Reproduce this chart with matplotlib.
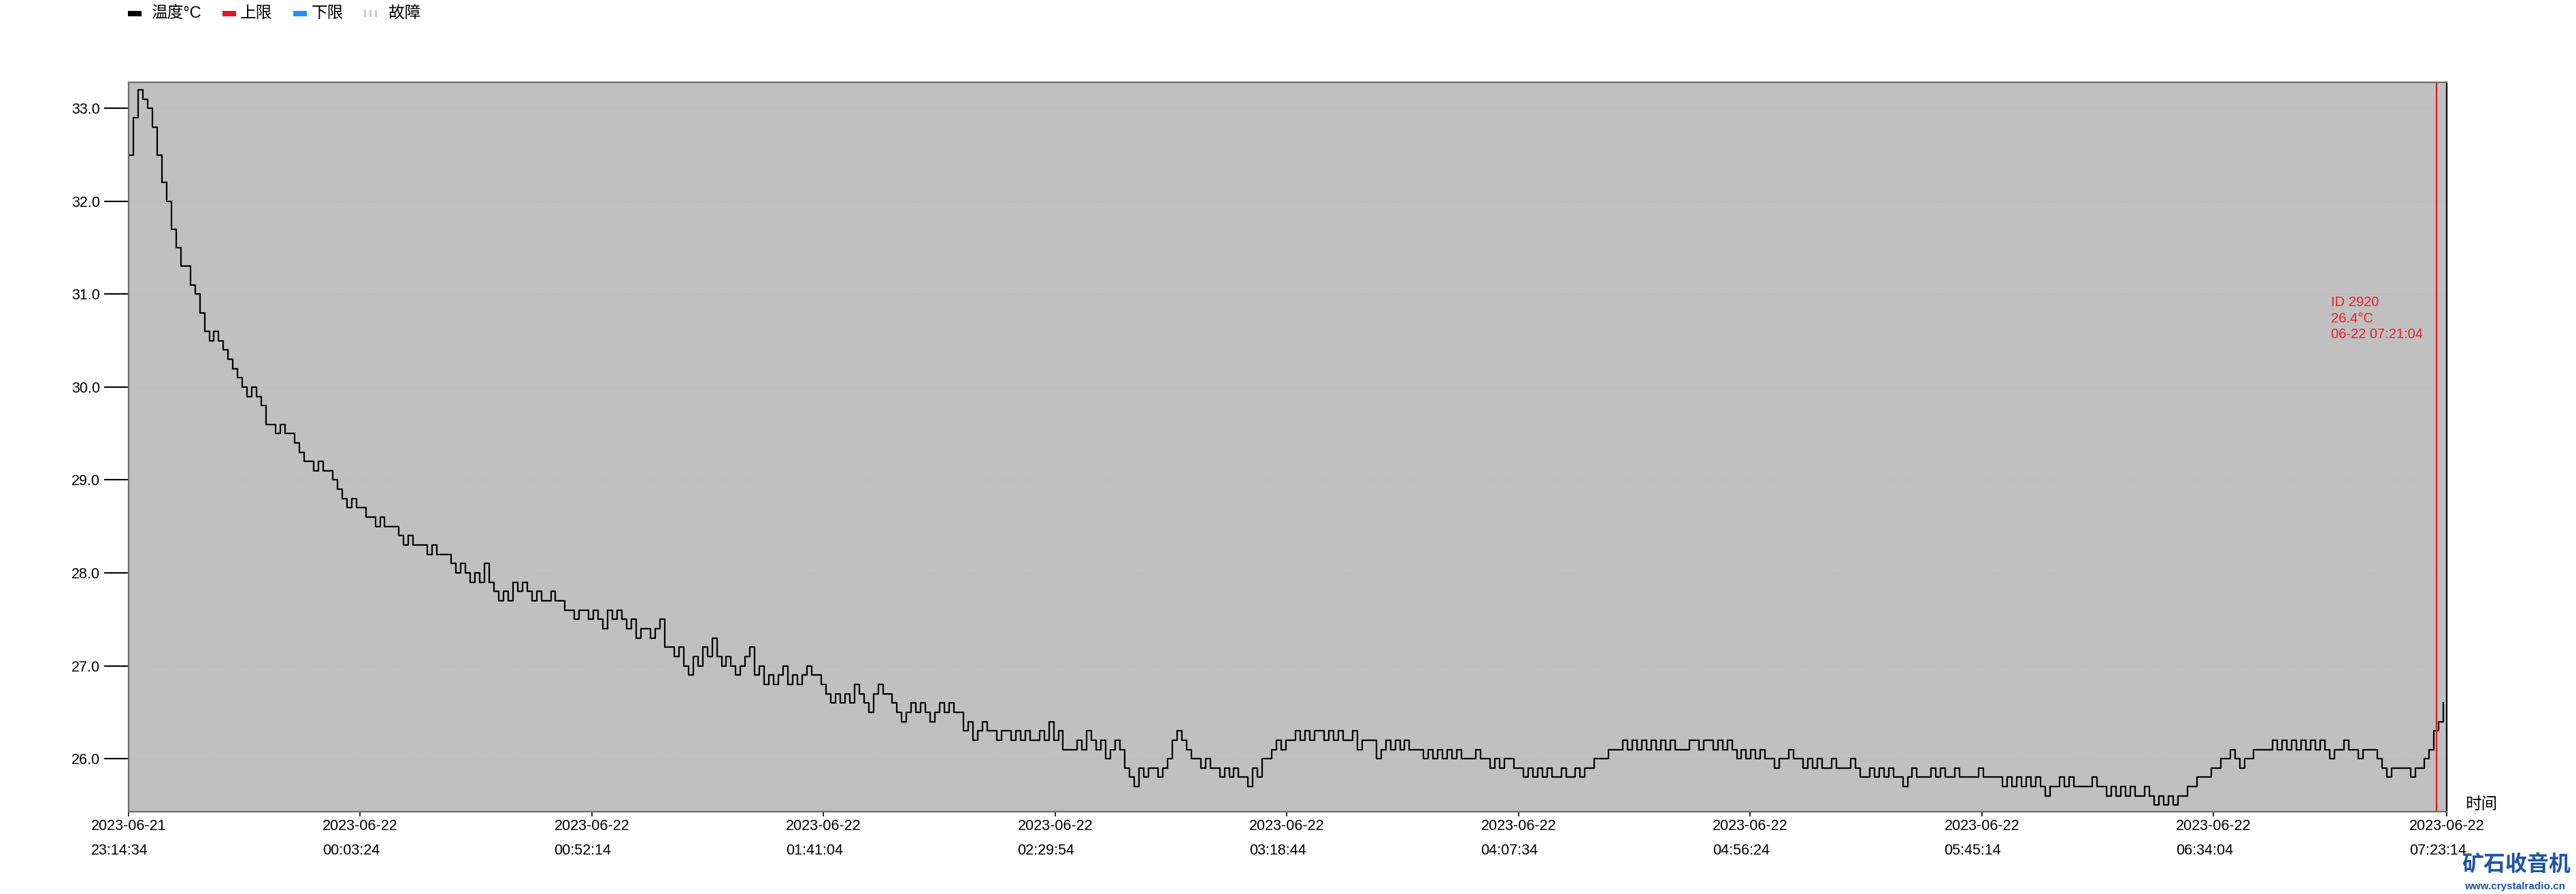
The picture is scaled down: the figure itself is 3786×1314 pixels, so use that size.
import datetime as dt
import numpy as np
import matplotlib
matplotlib.use('Agg')
import matplotlib.pyplot as plt
from matplotlib.patches import Rectangle

plt.rcParams['font.family'] = ['Liberation Sans', 'Noto Sans CJK SC', 'DejaVu Sans']

################
# Data         #
################

start = dt.datetime(2023, 6, 21, 23, 14, 34)
end = dt.datetime(2023, 6, 22, 7, 23, 14)
marker_time = dt.datetime(2023, 6, 22, 7, 21, 4)
marker_text = 'ID 2920\n26.4°C\n06-22 07:21:04'

# one reading per minute (deg C)
hour0 = [32.5, 32.9, 33.2, 33.1, 33.0, 32.8, 32.5, 32.2, 32.0, 31.7,
         31.5, 31.3, 31.3, 31.1, 31.0, 30.8, 30.6, 30.5, 30.6, 30.5,
         30.4, 30.3, 30.2, 30.1, 30.0, 29.9, 30.0, 29.9, 29.8, 29.6,
         29.6, 29.5, 29.6, 29.5, 29.5, 29.4, 29.3, 29.2, 29.2, 29.1,
         29.2, 29.1, 29.1, 29.0, 28.9, 28.8, 28.7, 28.8, 28.7, 28.7,
         28.6, 28.6, 28.5, 28.6, 28.5, 28.5, 28.5, 28.4, 28.3, 28.4]
hour1 = [28.3, 28.3, 28.3, 28.2, 28.3, 28.2, 28.2, 28.2, 28.1, 28.0,
         28.1, 28.0, 27.9, 28.0, 27.9, 28.1, 27.9, 27.8, 27.7, 27.8,
         27.7, 27.9, 27.8, 27.9, 27.8, 27.7, 27.8, 27.7, 27.7, 27.8,
         27.7, 27.7, 27.6, 27.6, 27.5, 27.6, 27.6, 27.5, 27.6, 27.5,
         27.4, 27.6, 27.5, 27.6, 27.5, 27.4, 27.5, 27.3, 27.4, 27.4,
         27.3, 27.4, 27.5, 27.2, 27.2, 27.1, 27.2, 27.0, 26.9, 27.1]
hour2 = [27.0, 27.2, 27.1, 27.3, 27.1, 27.0, 27.1, 27.0, 26.9, 27.0,
         27.1, 27.2, 26.9, 27.0, 26.8, 26.9, 26.8, 26.9, 27.0, 26.8,
         26.9, 26.8, 26.9, 27.0, 26.9, 26.9, 26.8, 26.7, 26.6, 26.7,
         26.6, 26.7, 26.6, 26.8, 26.7, 26.6, 26.5, 26.7, 26.8, 26.7,
         26.7, 26.6, 26.5, 26.4, 26.5, 26.6, 26.5, 26.6, 26.5, 26.4,
         26.5, 26.6, 26.5, 26.6, 26.5, 26.5, 26.3, 26.4, 26.2, 26.3]
hour3 = [26.4, 26.3, 26.3, 26.2, 26.3, 26.3, 26.2, 26.3, 26.2, 26.3,
         26.2, 26.2, 26.3, 26.2, 26.4, 26.2, 26.3, 26.1, 26.1, 26.1,
         26.2, 26.1, 26.3, 26.2, 26.1, 26.2, 26.0, 26.1, 26.2, 26.1,
         25.9, 25.8, 25.7, 25.9, 25.8, 25.9, 25.9, 25.8, 25.9, 26.0,
         26.2, 26.3, 26.2, 26.1, 26.0, 26.0, 25.9, 26.0, 25.9, 25.9,
         25.8, 25.9, 25.8, 25.9, 25.8, 25.8, 25.7, 25.9, 25.8, 26.0]
hour4 = [26.0, 26.1, 26.2, 26.1, 26.2, 26.2, 26.3, 26.2, 26.3, 26.2,
         26.3, 26.3, 26.2, 26.3, 26.2, 26.3, 26.2, 26.2, 26.3, 26.1,
         26.2, 26.2, 26.2, 26.0, 26.1, 26.2, 26.1, 26.2, 26.1, 26.2,
         26.1, 26.1, 26.1, 26.0, 26.1, 26.0, 26.1, 26.0, 26.1, 26.0,
         26.1, 26.0, 26.0, 26.0, 26.1, 26.0, 26.0, 25.9, 26.0, 25.9,
         26.0, 26.0, 25.9, 25.9, 25.8, 25.9, 25.8, 25.9, 25.8, 25.9]
hour5 = [25.8, 25.8, 25.9, 25.8, 25.8, 25.9, 25.8, 25.9, 25.9, 26.0,
         26.0, 26.0, 26.1, 26.1, 26.1, 26.2, 26.1, 26.2, 26.1, 26.2,
         26.1, 26.2, 26.1, 26.2, 26.1, 26.2, 26.1, 26.1, 26.1, 26.2,
         26.2, 26.1, 26.2, 26.2, 26.1, 26.2, 26.1, 26.2, 26.1, 26.0,
         26.1, 26.0, 26.1, 26.0, 26.1, 26.0, 26.0, 25.9, 26.0, 26.0,
         26.1, 26.0, 26.0, 25.9, 26.0, 25.9, 26.0, 25.9, 25.9, 26.0]
hour6 = [25.9, 25.9, 25.9, 26.0, 25.9, 25.8, 25.8, 25.9, 25.8, 25.9,
         25.8, 25.9, 25.8, 25.8, 25.7, 25.8, 25.9, 25.8, 25.8, 25.8,
         25.9, 25.8, 25.9, 25.8, 25.8, 25.9, 25.8, 25.8, 25.8, 25.8,
         25.9, 25.8, 25.8, 25.8, 25.8, 25.7, 25.8, 25.7, 25.8, 25.7,
         25.8, 25.7, 25.8, 25.7, 25.6, 25.7, 25.7, 25.8, 25.7, 25.8,
         25.7, 25.7, 25.7, 25.7, 25.8, 25.7, 25.7, 25.6, 25.7, 25.6]
hour7 = [25.7, 25.6, 25.7, 25.6, 25.6, 25.7, 25.6, 25.5, 25.6, 25.5,
         25.6, 25.5, 25.6, 25.6, 25.7, 25.7, 25.8, 25.8, 25.8, 25.9,
         25.9, 26.0, 26.0, 26.1, 26.0, 25.9, 26.0, 26.0, 26.1, 26.1,
         26.1, 26.1, 26.2, 26.1, 26.2, 26.1, 26.2, 26.1, 26.2, 26.1,
         26.2, 26.1, 26.2, 26.1, 26.0, 26.1, 26.1, 26.2, 26.1, 26.1,
         26.0, 26.1, 26.1, 26.1, 26.0, 25.9, 25.8, 25.9, 25.9, 25.9]
hour8 = [25.9, 25.8, 25.9, 25.9, 26.0, 26.1, 26.3, 26.4, 26.6]

y_ticks = [26.0, 27.0, 28.0, 29.0, 30.0, 31.0, 32.0, 33.0]
tick_step_s = 2930
legend_items = [('#000000', '温度°C'), ('#e8141c', '上限'), ('#1e90ff', '下限'), ('#c8c8c8', '故障')]

temps = np.array(hour0 + hour1 + hour2 + hour3 + hour4 + hour5 + hour6 + hour7 + hour8)
times = [start + dt.timedelta(minutes=i) for i in range(len(temps))]
tick_times = [start + dt.timedelta(seconds=tick_step_s * k) for k in range(10)] + [end]

################
# Figure       #
################

W, H = 3786, 1314
fig = plt.figure(figsize=(W / 100, H / 100), dpi=100)
fig.patch.set_facecolor('white')


def fx(px):
    return px / W


def fy(py):
    return 1 - py / H


ax = fig.add_axes([fx(189), fy(1193), (3596 - 189) / W, (1193 - 121) / H])
ax.set_facecolor('#c0c0c0')
ax.set_axisbelow(True)
ax.grid(axis='y', color='#b7b7b7', lw=0.7, ls=(0, (2, 2)))

ax.plot(times, temps, color='black', lw=1.6, drawstyle='steps-post')
ax.axvline(marker_time, color='#d81818', lw=1.5)
ax.text(0.950, 0.707, marker_text, transform=ax.transAxes, color='#e8202a',
        fontsize=14.5, va='top', ha='left', linespacing=1.3)

ax.set_xlim(start, end)
ax.set_ylim(25.43, 33.28)
ax.set_yticks(y_ticks)
ax.set_yticklabels(['{:.1f}'.format(v) for v in y_ticks])
ax.set_xticks(tick_times)
ax.set_xticklabels([t.strftime('%Y-%m-%d\n%H:%M:%S') for t in tick_times])
for lab in ax.get_xticklabels():
    lab.set_linespacing(1.95)
    lab.set_multialignment('left')

ax.tick_params(axis='y', direction='out', length=26, width=1.5, color='black', pad=4, labelsize=15.5)
ax.tick_params(axis='x', direction='out', length=5, width=1.2, color='black', pad=3, labelsize=15.5)

for s in ['left', 'bottom', 'top']:
    ax.spines[s].set_color('#6e6e6e')
    ax.spines[s].set_linewidth(1.6)
ax.spines['right'].set_color('black')
ax.spines['right'].set_linewidth(1.6)

# legend, drawn by hand in pixel positions
patch_x = [188, 327, 431, 533]
text_x = [222, 353, 458, 571]
for (col, lab), px, tx in zip(legend_items, patch_x, text_x):
    if lab == '故障':
        for k in range(3):
            fig.add_artist(Rectangle((fx(px + 2 + 8 * k), fy(25)), 3 / W, 10 / H,
                                     transform=fig.transFigure, color=col, lw=0))
    else:
        fig.add_artist(Rectangle((fx(px), fy(24)), 20 / W, 8 / H,
                                 transform=fig.transFigure, color=col, lw=0))
    fig.text(fx(tx), fy(20), lab, fontsize=17, va='center', ha='left')

fig.text(fx(3623), fy(1183), '时间', fontsize=17, va='center', ha='left')

# watermark
fig.text(fx(3618), fy(1271), '矿石收音机', fontsize=23, fontweight='heavy', color='#1f55a5',
         va='center', ha='left', family=['Noto Sans CJK SC'])
fig.text(fx(3622), fy(1303), 'www.crystalradio.cn', fontsize=11, fontweight='bold',
         color='#1f55a5', va='center', ha='left')

fig.savefig('out.png', dpi=100, facecolor='white')
